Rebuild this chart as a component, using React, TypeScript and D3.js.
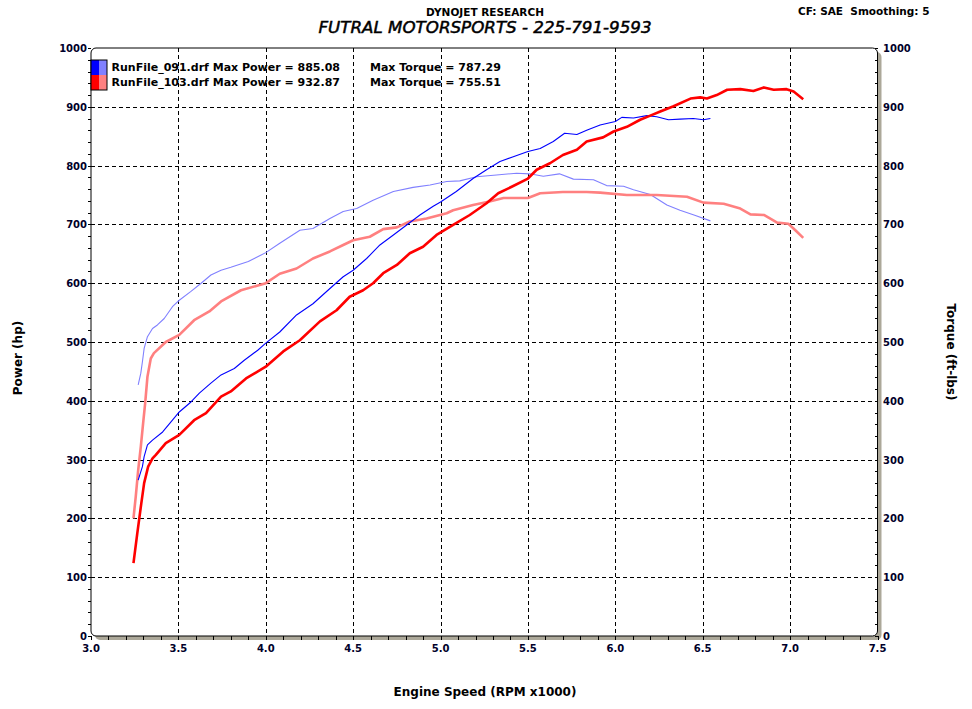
import * as d3 from "d3"

// run 091 (blue)
const run091PowerRpm = [3.27, 3.294, 3.304, 3.323, 3.352, 3.41, 3.466, 3.505, 3.572, 3.62, 3.686, 3.744, 3.82, 3.877, 3.954, 4.0, 4.08, 4.176, 4.27, 4.367, 4.443, 4.5, 4.577, 4.653, 4.73, 4.806, 4.882, 4.958, 5.0, 5.09, 5.186, 5.263, 5.34, 5.416, 5.5, 5.57, 5.645, 5.71, 5.78, 5.836, 5.913, 6.0, 6.037, 6.104, 6.18, 6.237, 6.304, 6.37, 6.446, 6.504, 6.544]
const run091Power = [265, 288, 305, 325, 333, 347, 367, 381, 398, 413, 430, 444, 455, 469, 486, 498, 517, 546, 565, 591, 611, 622, 642, 665, 682, 699, 716, 731, 738, 756, 778, 793, 807, 815, 824, 829, 841, 855, 853, 860, 869, 875, 882, 881, 885, 883, 878, 879, 880, 878, 880]
const run091TorqueRpm = [3.27, 3.285, 3.294, 3.304, 3.323, 3.352, 3.38, 3.419, 3.466, 3.505, 3.572, 3.63, 3.686, 3.744, 3.8, 3.9, 4.0, 4.08, 4.195, 4.27, 4.367, 4.443, 4.52, 4.614, 4.73, 4.843, 4.94, 5.035, 5.11, 5.206, 5.32, 5.435, 5.51, 5.588, 5.68, 5.76, 5.875, 5.95, 6.047, 6.104, 6.2, 6.295, 6.37, 6.45, 6.544]
const run091Torque = [427, 447, 466, 489, 509, 523, 529, 540, 560, 571, 586, 600, 614, 622, 627, 637, 652, 668, 690, 693, 710, 722, 727, 741, 756, 763, 767, 773, 774, 781, 784, 787, 786, 782, 786, 777, 776, 766, 765, 759, 751, 733, 724, 716, 706]

// run 103 (red)
const run103PowerRpm = [3.243, 3.265, 3.288, 3.304, 3.327, 3.352, 3.371, 3.428, 3.505, 3.59, 3.658, 3.744, 3.8, 3.887, 4.0, 4.1, 4.195, 4.31, 4.405, 4.48, 4.557, 4.614, 4.672, 4.75, 4.824, 4.9, 4.977, 5.072, 5.167, 5.263, 5.33, 5.407, 5.5, 5.55, 5.626, 5.7, 5.78, 5.836, 5.93, 5.99, 6.066, 6.142, 6.2, 6.257, 6.333, 6.43, 6.486, 6.524, 6.58, 6.64, 6.715, 6.79, 6.85, 6.906, 6.98, 7.02, 7.075]
const run103Power = [124, 175, 226, 260, 288, 302, 308, 328, 342, 367, 379, 407, 416, 438, 458, 484, 503, 535, 554, 577, 588, 600, 617, 631, 651, 662, 682, 699, 716, 736, 753, 764, 778, 793, 804, 818, 827, 841, 848, 858, 866, 878, 885, 892, 901, 914, 916, 914, 920, 929, 930, 927, 933, 929, 930, 926, 913]
const run103TorqueRpm = [3.243, 3.256, 3.27, 3.285, 3.3, 3.31, 3.323, 3.342, 3.36, 3.428, 3.505, 3.59, 3.677, 3.744, 3.858, 4.0, 4.08, 4.176, 4.27, 4.367, 4.443, 4.5, 4.595, 4.672, 4.75, 4.824, 4.92, 5.035, 5.072, 5.186, 5.28, 5.36, 5.5, 5.57, 5.7, 5.836, 5.913, 6.066, 6.237, 6.41, 6.504, 6.62, 6.715, 6.773, 6.85, 6.926, 6.99, 7.03, 7.075]
const run103Torque = [200, 237, 282, 322, 367, 396, 441, 472, 481, 500, 512, 537, 552, 569, 588, 600, 616, 625, 642, 654, 665, 673, 679, 692, 695, 705, 710, 719, 724, 733, 739, 745, 745, 753, 755, 755, 754, 750, 750, 747, 737, 735, 727, 717, 716, 703, 701, 690, 677]

const yTicks = [0, 100, 200, 300, 400, 500, 600, 700, 800, 900, 1000]
const xTicks = [3.0, 3.5, 4.0, 4.5, 5.0, 5.5, 6.0, 6.5, 7.0, 7.5]

const legendRows = [
  { name: "RunFile_091.drf", power: "885.08", torque: "787.29", dark: "#0000ff", light: "#8080ff" },
  { name: "RunFile_103.drf", power: "932.87", torque: "755.51", dark: "#ff0000", light: "#ff8080" },
]

const W = 972
const H = 709
const FONT = "'DejaVu Sans', Verdana, sans-serif"

export default function App() {
  const x = d3.scaleLinear().domain([3, 7.5]).range([91, 877.5])
  const y = d3.scaleLinear().domain([0, 1000]).range([636, 48])

  const line = d3
    .line<[number, number]>()
    .x((d) => x(d[0]))
    .y((d) => y(d[1]))

  const zip = (a: number[], b: number[]) => a.map((v, i) => [v, b[i]] as [number, number])

  const series = [
    { pts: zip(run091TorqueRpm, run091Torque), color: "#8080ff", w: 1.1 },
    { pts: zip(run103TorqueRpm, run103Torque), color: "#ff8080", w: 2.6 },
    { pts: zip(run091PowerRpm, run091Power), color: "#0000ff", w: 1.1 },
    { pts: zip(run103PowerRpm, run103Power), color: "#ff0000", w: 2.6 },
  ]

  const left = x(3)
  const right = x(7.5)
  const top = y(1000)
  const bottom = y(0)
  const snap = (v: number) => Math.round(v) + 0.5

  const minorY = d3.range(0, 1001, 20)
  const minorX = d3.range(30, 76, 1).map((d) => d / 10)

  return (
    <svg
      width={W}
      height={H}
      style={{ position: "absolute", left: 0, top: 0, background: "#fff" }}
      fontFamily={FONT}
    >
      {/* titles */}
      <text x={485} y={15.5} textAnchor="middle" fontSize={10.5} fontWeight="bold" fill="#000">
        DYNOJET RESEARCH
      </text>
      <text
        x={485}
        y={33.3}
        textAnchor="middle"
        fontSize={16.7}
        fontStyle="italic"
        fill="#000"
        stroke="#000"
        strokeWidth={0.5}
      >
        FUTRAL MOTORSPORTS - 225-791-9593
      </text>
      <text x={798} y={15} fontSize={10.5} fontWeight="bold" fill="#000" style={{ whiteSpace: "pre" }}>
        {"CF: SAE  Smoothing: 5"}
      </text>

      {/* frame with shadow */}
      <rect x={left + 4} y={top + 4} width={right - left} height={bottom - top} rx={5} fill="#aca899" />
      <rect x={left} y={top} width={right - left} height={bottom - top} rx={5} fill="#fff" stroke="#000" strokeWidth={1} />

      {/* grid */}
      <g stroke="#000" strokeWidth={1} strokeDasharray="4,3" shapeRendering="crispEdges">
        {yTicks.slice(1, -1).map((v) => (
          <line key={"gy" + v} x1={left} x2={right} y1={snap(y(v))} y2={snap(y(v))} />
        ))}
        {xTicks.slice(1, -1).map((v) => (
          <line key={"gx" + v} x1={snap(x(v))} x2={snap(x(v))} y1={top} y2={bottom} />
        ))}
      </g>

      {/* ticks */}
      <g stroke="#000" strokeWidth={1} shapeRendering="crispEdges">
        {minorY.map((v) => (
          <line key={"ly" + v} x1={left - 3} x2={left} y1={snap(y(v))} y2={snap(y(v))} />
        ))}
        {minorY.map((v) => (
          <line key={"ry" + v} x1={right - 3} x2={right} y1={snap(y(v))} y2={snap(y(v))} />
        ))}
        {minorX.map((v) => (
          <line key={"bx" + v} x1={snap(x(v))} x2={snap(x(v))} y1={bottom} y2={bottom + 4} />
        ))}
      </g>

      {/* curves */}
      {series.map((s, i) => (
        <path key={i} d={line(s.pts) || ""} fill="none" stroke={s.color} strokeWidth={s.w} strokeLinejoin="round" />
      ))}

      {/* legend */}
      {legendRows.map((r, i) => {
        const ry = 60 + i * 15
        return (
          <g key={r.name}>
            <rect x={left} y={ry} width={8} height={15} fill={r.dark} />
            <rect x={left + 8} y={ry} width={8} height={15} fill={r.light} />
            <text x={111.5} y={ry + 10.7} fontSize={11} fontWeight="bold" fill="#000">
              {`${r.name} Max Power = ${r.power}`}
            </text>
            <text x={370} y={ry + 10.7} fontSize={11} fontWeight="bold" fill="#000">
              {`Max Torque = ${r.torque}`}
            </text>
          </g>
        )
      })}
      <rect x={left} y={60} width={16} height={30} fill="none" stroke="#000" strokeWidth={1} />

      {/* axis tick labels */}
      <g fontSize={10} fontWeight="bold" fill="#00002a">
        {yTicks.map((v) => (
          <text key={"lt" + v} x={left - 4} y={y(v) + 4} textAnchor="end">
            {v}
          </text>
        ))}
        {yTicks.map((v) => (
          <text key={"rt" + v} x={right + 5.5} y={y(v) + 4}>
            {v}
          </text>
        ))}
        {xTicks.map((v) => (
          <text key={"xt" + v} x={x(v)} y={651.5} textAnchor="middle">
            {v.toFixed(1)}
          </text>
        ))}
      </g>

      {/* axis titles */}
      <text
        transform={`translate(22,358) rotate(-90)`}
        textAnchor="middle"
        fontSize={12}
        fontWeight="bold"
        fill="#000"
      >
        Power (hp)
      </text>
      <text
        transform={`translate(947,352) rotate(90)`}
        textAnchor="middle"
        fontSize={12}
        fontWeight="bold"
        fill="#000"
      >
        Torque (ft-lbs)
      </text>
      <text x={485} y={696} textAnchor="middle" fontSize={12} fontWeight="bold" fill="#000">
        Engine Speed (RPM x1000)
      </text>
    </svg>
  )
}
